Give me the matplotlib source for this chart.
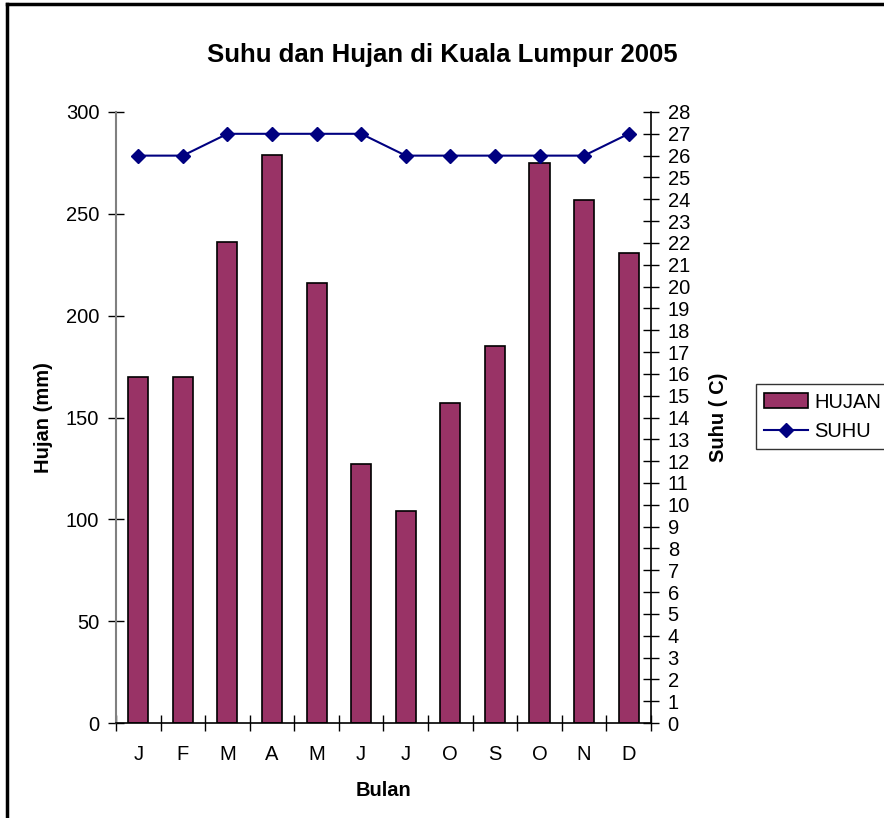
import matplotlib.pyplot as plt
from matplotlib.lines import Line2D

plt.rcParams['font.family'] = ['Liberation Sans', 'DejaVu Sans']

# data
bulan = ['J', 'F', 'M', 'A', 'M', 'J', 'J', 'O', 'S', 'O', 'N', 'D']
hujan = [170, 170, 236, 279, 216, 127, 104, 157, 185, 275, 257, 231]
suhu = [26, 26, 27, 27, 27, 27, 26, 26, 26, 26, 26, 27]

fig = plt.figure(figsize=(8.84, 8.18), dpi=100)
ax = fig.add_axes([0.1312, 0.1161, 0.6052, 0.747])

x = list(range(len(bulan)))
bars = ax.bar(x, hujan, width=0.45, color='#993366', edgecolor='black', linewidth=1.2, label='HUJAN')
ax.set_xlim(-0.5, len(bulan) - 0.5)
ax.set_ylim(0, 300)
ax.set_yticks(range(0, 301, 50))

# category ticks on boundaries, labels in the middle
ax.set_xticks([i - 0.5 for i in range(len(bulan) + 1)])
ax.set_xticklabels([])
ax.set_xticks(x, minor=True)
ax.set_xticklabels(bulan, minor=True)
ax.tick_params(axis='x', which='major', direction='inout', length=12, width=1)
ax.tick_params(axis='x', which='minor', length=0, pad=16, labelsize=14.5)
ax.tick_params(axis='y', direction='inout', length=12, width=1, labelsize=14.5, pad=6)

ax.spines['top'].set_visible(False)
ax.spines['right'].set_visible(False)
ax.spines['left'].set_color('#808080')
ax.spines['left'].set_linewidth(1.5)
ax.spines['bottom'].set_linewidth(1.2)

ax.set_xlabel('Bulan', fontsize=14.5, fontweight='bold', labelpad=12)
ax.set_ylabel('Hujan (mm)', fontsize=14.5, fontweight='bold', labelpad=9)

# temperature on the right axis
ax2 = ax.twinx()
line, = ax2.plot(x, suhu, color='#000080', marker='D', markersize=7, linewidth=1.5, label='SUHU')
ax2.set_ylim(0, 28)
ax2.set_yticks(range(0, 29))
ax2.tick_params(axis='y', direction='inout', length=12, width=1, labelsize=14.5, pad=6)
for s in ['top', 'left', 'bottom']:
    ax2.spines[s].set_visible(False)
ax2.spines['right'].set_linewidth(1.2)
ax2.set_ylabel('Suhu ( C)', fontsize=14.5, fontweight='bold', labelpad=14)

fig.suptitle('Suhu dan Hujan di Kuala Lumpur 2005', fontsize=18.5, fontweight='bold', y=0.948)

leg = fig.legend([bars, line], ['HUJAN', 'SUHU'], loc='upper left', bbox_to_anchor=(0.855, 0.53),
                 fontsize=14.5, frameon=True, fancybox=False, edgecolor='black',
                 handlelength=2.2, borderpad=0.4, labelspacing=0.5, handletextpad=0.3, borderaxespad=0)
leg.get_frame().set_linewidth(1)

# outer frame (left and top edges visible)
fig.add_artist(Line2D([0.008, 0.008], [0, 0.995], color='black', linewidth=2.5, transform=fig.transFigure))
fig.add_artist(Line2D([0.008, 1.0], [0.995, 0.995], color='black', linewidth=2.5, transform=fig.transFigure))

fig.savefig('out.png', dpi=100)
